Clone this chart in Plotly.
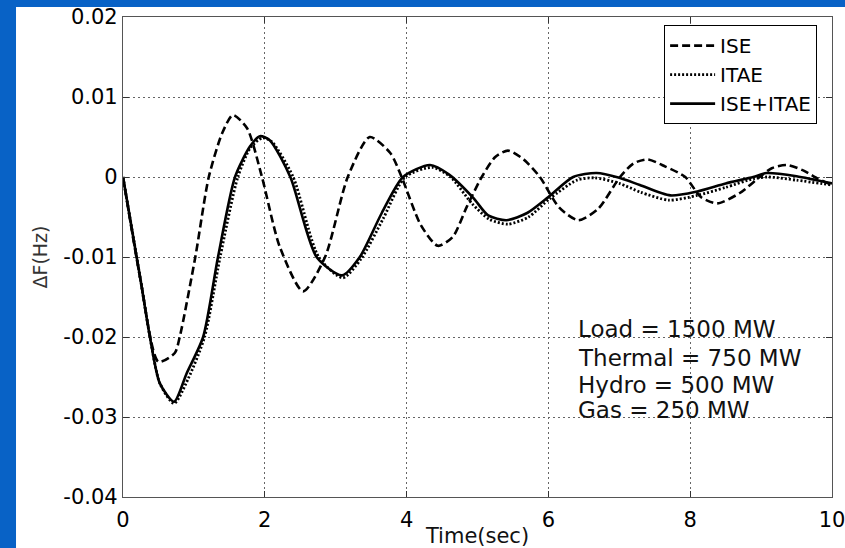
import plotly.graph_objects as go

# ---- data ----
t_ise = [0, 0.25, 0.5, 0.73, 0.8, 1.02, 1.21, 1.4, 1.55, 1.75, 1.96, 2.21, 2.54, 2.85,
         3.17, 3.48, 3.77, 3.93, 4.2, 4.44, 4.65, 4.85, 5.06, 5.25, 5.43, 5.65, 5.88,
         6.15, 6.42, 6.7, 7.01, 7.2, 7.4, 7.65, 7.93, 8.15, 8.38, 8.7, 8.98, 9.15,
         9.36, 9.6, 9.8, 10]
v_ise = [0, -0.013, -0.0231, -0.022, -0.020, -0.010, 0, 0.0055, 0.00775, 0.0061, 0,
         -0.0087, -0.0143, -0.010, 0, 0.005, 0.003, 0, -0.006, -0.0086, -0.0075,
         -0.0037, 0, 0.0025, 0.0033, 0.0022, 0, -0.0038, -0.0054, -0.004, 0, 0.0017,
         0.0022, 0.0013, 0, -0.0025, -0.0033, -0.002, 0, 0.0011, 0.0015, 0.0008,
         -0.0002, -0.001]

t_itae = [0, 0.25, 0.38, 0.52, 0.72, 0.92, 1.15, 1.37, 1.62, 1.8, 1.97, 2.1, 2.4, 2.76,
          3.1, 3.36, 3.67, 3.98, 4.36, 4.62, 4.92, 5.17, 5.43, 5.72, 6.02, 6.4, 6.65,
          7.0, 7.3, 7.7, 8.1, 8.5, 8.9, 9.1, 9.5, 10]
v_itae = [0, -0.013, -0.020, -0.0258, -0.0283, -0.0252, -0.020, -0.010, 0, 0.0037,
          0.0049, 0.0044, 0, -0.010, -0.0126, -0.0102, -0.0052, 0, 0.0012, 0.0,
          -0.0033, -0.0053, -0.0059, -0.005, -0.0027, -0.0004, -0.0001, -0.0008,
          -0.0019, -0.0029, -0.0023, -0.0013, -0.0002, 0.0, -0.0004, -0.001]

t_combo = [0, 0.25, 0.38, 0.52, 0.72, 0.9, 1.13, 1.34, 1.58, 1.79, 1.93, 2.07, 2.36,
           2.73, 3.09, 3.34, 3.65, 3.95, 4.33, 4.6, 4.94, 5.15, 5.41, 5.7, 6.0, 6.35,
           6.68, 7.0, 7.29, 7.72, 8.1, 8.5, 8.89, 9.08, 9.5, 10]
v_combo = [0, -0.013, -0.020, -0.0258, -0.0281, -0.0245, -0.020, -0.010, 0, 0.0038,
           0.0051, 0.0046, 0, -0.010, -0.0123, -0.010, -0.0045, 0, 0.0015, 0.0003,
           -0.0026, -0.0048, -0.0054, -0.0045, -0.0025, 0, 0.0005, -0.0001, -0.001,
           -0.0023, -0.0018, -0.0008, 0, 0.0005, 0.0001, -0.0008]

series_names = ["ISE", "ITAE", "ISE+ITAE"]

x_ticks = [0, 2, 4, 6, 8, 10]
x_ticklabels = ["0", "2", "4", "6", "8", "10"]
y_ticks = [-0.04, -0.03, -0.02, -0.01, 0, 0.01, 0.02]
y_ticklabels = ["-0.04", "-0.03", "-0.02", "-0.01", "0", "0.01", "0.02"]

info_lines = ["Load = 1500 MW", "Thermal = 750 MW", "Hydro = 500 MW", "Gas = 250 MW"]

FONT = "DejaVu Sans"
SMOOTH = 0.7

fig = go.Figure()
fig.add_trace(go.Scatter(x=t_ise, y=v_ise, mode="lines", name=series_names[0],
                         line=dict(color="black", width=2.6, dash="8px,4px",
                                   shape="spline", smoothing=SMOOTH)))
fig.add_trace(go.Scatter(x=t_itae, y=v_itae, mode="lines", name=series_names[1],
                         line=dict(color="black", width=2.8, dash="2px,2px",
                                   shape="spline", smoothing=SMOOTH)))
fig.add_trace(go.Scatter(x=t_combo, y=v_combo, mode="lines", name=series_names[2],
                         line=dict(color="black", width=2.6,
                                   shape="spline", smoothing=SMOOTH)))

# parameter text box
info_y = [-0.0190, -0.0226, -0.0260, -0.0291]
for txt, yy in zip(info_lines, info_y):
    fig.add_annotation(x=6.39, y=yy, xref="x", yref="y", text=txt, showarrow=False,
                       xanchor="left", yanchor="middle",
                       font=dict(family=FONT, size=23, color="#111"))

# slide background: blue strips on the left and top edges
BLUE = "#0862c6"
fig.add_shape(type="rect", xref="paper", yref="paper", layer="below",
              x0=-0.5, x1=-0.1509, y0=-0.5, y1=1.5,
              fillcolor=BLUE, line=dict(width=0))
fig.add_shape(type="rect", xref="paper", yref="paper", layer="below",
              x0=-0.5, x1=1.5, y0=1.0208, y1=1.5,
              fillcolor=BLUE, line=dict(width=0))

axis_common = dict(
    showline=True, linecolor="#555", linewidth=1.2, mirror="allticks",
    ticks="inside", ticklen=6, tickcolor="#333", tickwidth=1,
    showgrid=True, gridcolor="#666", gridwidth=1, griddash="2px,3px",
    zeroline=False, automargin=False,
    tickfont=dict(family=FONT, size=21, color="black"),
)

fig.update_xaxes(range=[0, 10], tickvals=x_ticks, ticktext=x_ticklabels,
                 ticklabelstandoff=4, ticklabeloverflow="allow",
                 title=dict(text="Time(sec)", font=dict(family=FONT, size=21, color="#111"),
                            standoff=8),
                 **axis_common)
fig.update_yaxes(range=[-0.04, 0.02], tickvals=y_ticks, ticktext=y_ticklabels,
                 title=dict(text="ΔF(Hz)", font=dict(family=FONT, size=19, color="#333"),
                            standoff=10),
                 **axis_common)

fig.update_layout(
    width=845, height=548,
    margin=dict(l=123, r=13, t=17, b=51),
    paper_bgcolor="white",
    plot_bgcolor="white",
    showlegend=True,
    legend=dict(x=0.979, y=0.983, xanchor="right", yanchor="top",
                bgcolor="white", bordercolor="black", borderwidth=1,
                font=dict(family=FONT, size=20, color="black"),
                tracegroupgap=0, itemwidth=45),
)

fig.write_html("out.html")
